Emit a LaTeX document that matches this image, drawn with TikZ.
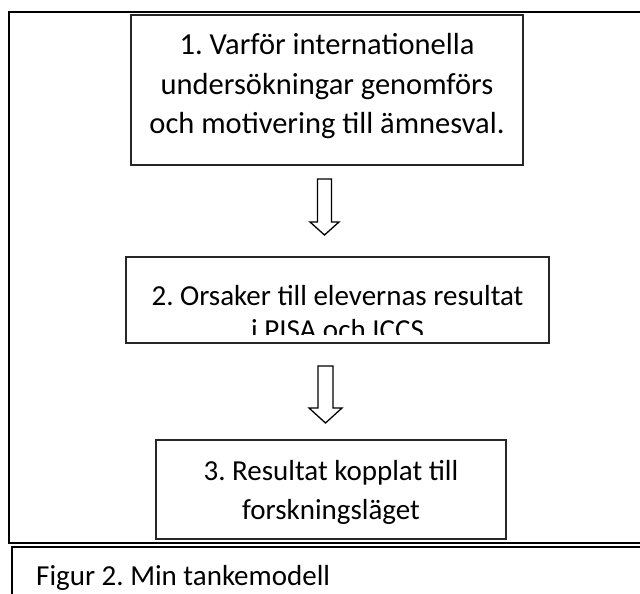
\documentclass[tikz,border=0pt]{standalone}
\usepackage{fontspec}
\setmainfont{Carlito}
\frenchspacing
\begin{document}
\begin{tikzpicture}[x=1pt,y=-1pt,
  frameline/.style={draw=black, line width=2pt},
  boxline/.style={draw=black!85, line width=1.4pt, inner sep=0pt, fill=white},
  txt/.style={inner sep=0pt, anchor=base, font=\fontsize{29}{39}\selectfont},
  bigtxt/.style={txt, font=\fontsize{30.5}{39}\selectfont},
  blockarrow/.style={draw=black, line width=1.3pt, fill=white, line join=miter}]
\useasboundingbox (0,0) rectangle (640,594);
\clip (0,0) rectangle (640,594);
% outer frame
\draw[frameline] (9,12) -- (660,12) -- (660,543) -- (9,543) -- cycle;
% caption frame
\draw[frameline] (12,620) -- (12,547) -- (660,547);
% boxes
\node[boxline, minimum width=392pt, minimum height=150pt] (b1) at (327,90) {};
\node[boxline, minimum width=423pt, minimum height=86pt] (b2) at (337.5,300) {};
\node[boxline, minimum width=350pt, minimum height=99pt] (b3) at (331,489.5) {};
% box texts
\node[bigtxt] (t1a) at (327,55) {1. Varför internationella};
\node[bigtxt] (t1b) at (327,94) {undersökningar genomförs};
\node[bigtxt] (t1c) at (327,133) {och motivering till ämnesval.};
\node[txt] (t2a) at (337.5,305) {2. Orsaker till elevernas resultat};
\begin{scope}
\clip (126,257) rectangle (549,334);
\node[txt] (t2b) at (337.5,339) {i PISA och ICCS};
\end{scope}
\node[txt] (t3a) at (331,480) {3. Resultat kopplat till};
\node[txt] (t3b) at (331,519) {forskningsläget};
% block arrows
\draw[blockarrow] (317.5,179) -- (331.5,179) -- (331.5,222) -- (339,222) -- (324.5,235) -- (310,222) -- (317.5,222) -- cycle;
\draw[blockarrow] (318,366) -- (333,366) -- (333,408) -- (342,408) -- (325.5,423) -- (309,408) -- (318,408) -- cycle;
% caption
\node[txt, anchor=base west] (cap) at (36,585) {Figur 2. Min tankemodell};
\end{tikzpicture}
\end{document}
